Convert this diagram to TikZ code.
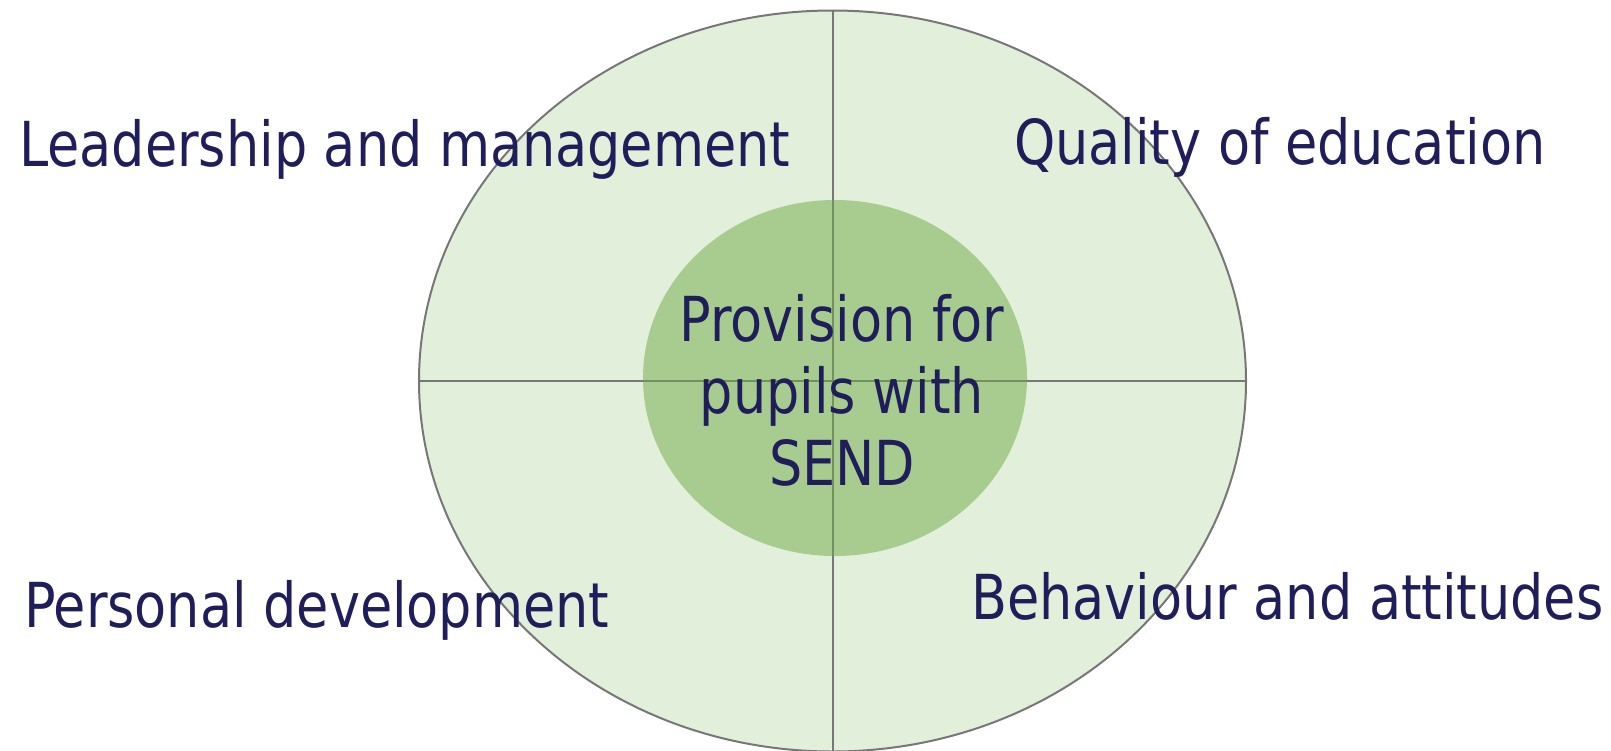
\documentclass[tikz,border=0pt]{standalone}
\usepackage{fontspec}
\setmainfont[FakeStretch=0.94]{DejaVu Sans Condensed}
\usetikzlibrary{shapes.geometric}
\definecolor{ringfill}{HTML}{E2EFDA}
\definecolor{corefill}{RGB}{112,171,70}
\definecolor{divider}{HTML}{777777}
\definecolor{labeltext}{HTML}{201E5A}
\tikzset{
  area/.style={font=\fontsize{62}{72}\selectfont, text=labeltext, inner sep=0pt, anchor=base west},
}
\begin{document}
\begin{tikzpicture}[x=1pt,y=-1pt]
  \useasboundingbox (0,0) rectangle (1611,750);
  \clip (0,0) rectangle (1611,750);
  % outer ring split into four areas
  \node[ellipse, draw=divider, line width=2pt, fill=ringfill, inner sep=0pt,
        minimum width=827pt, minimum height=741pt] (ring) at (832.5,381) {};
  \draw[divider, line width=2pt] (ring.north) -- (ring.south);
  \draw[divider, line width=2pt] (ring.west) -- (ring.east);
  % central focus
  \node[ellipse, fill=corefill, fill opacity=0.5, inner sep=0pt,
        minimum width=384pt, minimum height=356pt] (core) at (835,378) {};
  \node[font=\fontsize{62}{72}\selectfont, text=labeltext, align=center, inner sep=0pt,
        anchor=base] (send) at (842,485) {Provision for\\pupils with\\SEND};
  % the four areas
  \node[area] (lead) at (19,166) {Leadership and management};
  \node[area] (quality) at (1014,164) {Quality of education};
  \node[area] (personal) at (24,627) {Personal development};
  \node[area] (behaviour) at (971,619) {Behaviour and attitudes};
\end{tikzpicture}
\end{document}
